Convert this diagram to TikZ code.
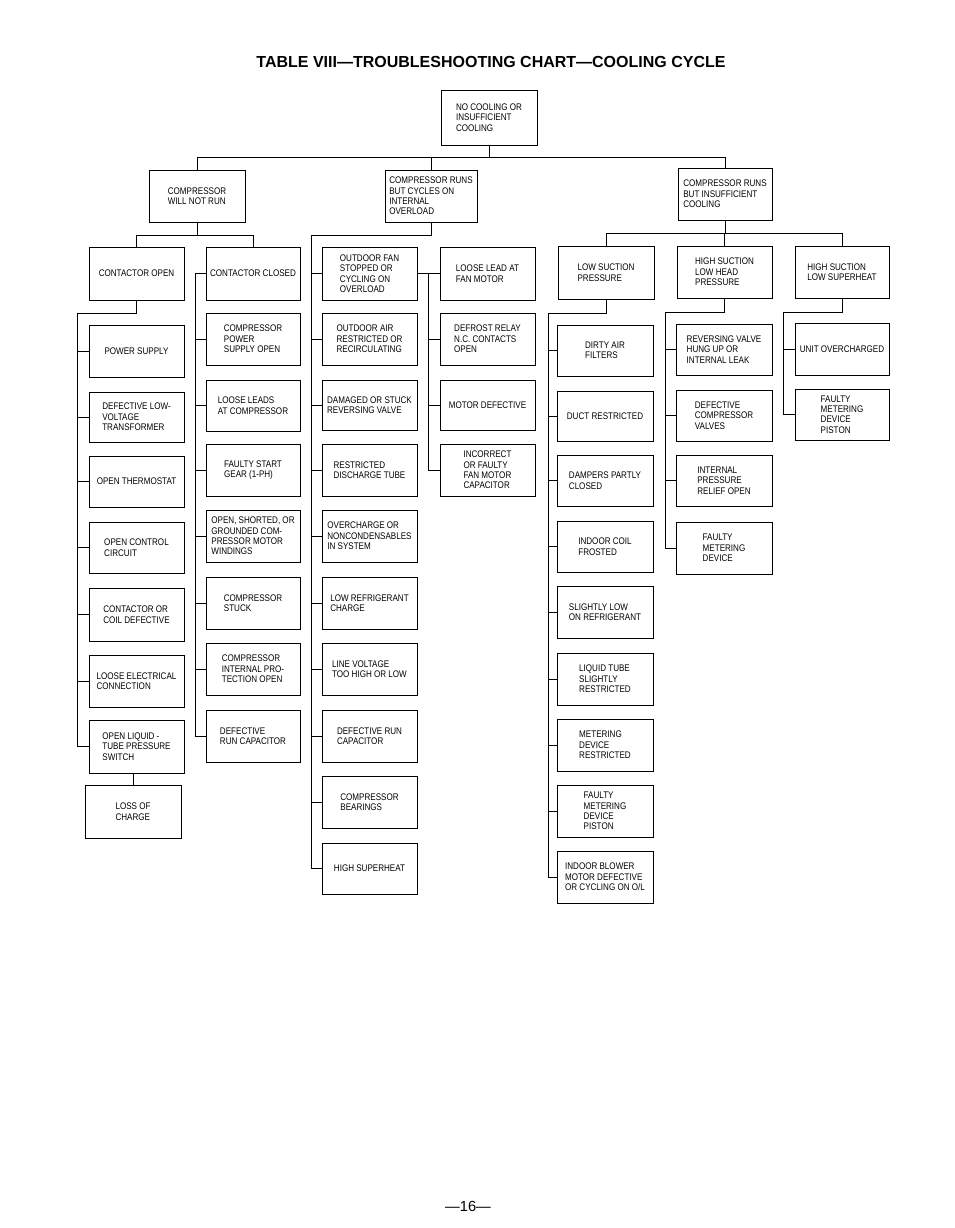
\documentclass[tikz,border=0pt]{standalone}
\usepackage{fontspec}
\setmainfont{Liberation Sans}
\newfontfamily\condfont[FakeStretch=0.84]{Liberation Sans}
\usetikzlibrary{positioning}
\tikzset{
  box/.style={draw,line width=0.65pt,inner sep=1.5pt,align=left,
    font=\condfont\fontsize{7.2}{7.8}\selectfont},
  link/.style={line width=0.65pt}
}
% box from its corners in page pixels
\newcommand{\bx}[6]{\node[box,minimum width={(#4-#2)*0.75pt},minimum height={(#5-#3)*0.75pt}] (#1) at ({(#2+#4)/2},{(#3+#5)/2}) {#6};}
\begin{document}
\begin{tikzpicture}[x=0.75pt,y=-0.75pt]
\useasboundingbox (0,0) rectangle (954,1228);
\node (title) at (491,62) {\bfseries\fontsize{12}{13}\selectfont TABLE VIII---TROUBLESHOOTING CHART---COOLING CYCLE};
\node (page) at (468,1206) {\fontsize{11}{12}\selectfont ---16---};
% top levels
\bx{nc}{441}{90}{537}{145}{NO COOLING OR\\INSUFFICIENT\\COOLING}
\bx{cwnr}{149}{170}{245}{222}{COMPRESSOR\\WILL NOT RUN}
\bx{crc}{385}{170}{477}{222}{COMPRESSOR RUNS\\BUT CYCLES ON\\INTERNAL\\OVERLOAD}
\bx{cri}{678}{168}{772}{220}{COMPRESSOR RUNS\\BUT INSUFFICIENT\\COOLING}
% compressor will not run
\bx{co}{89}{247}{184}{300}{CONTACTOR OPEN}
\bx{cc}{206}{247}{300}{300}{CONTACTOR CLOSED}
\bx{ps}{89}{325}{184}{377}{POWER SUPPLY}
\bx{dlv}{89}{392}{184}{442}{DEFECTIVE LOW-\\VOLTAGE\\TRANSFORMER}
\bx{ot}{89}{456}{184}{507}{OPEN THERMOSTAT}
\bx{occ}{89}{522}{184}{573}{OPEN CONTROL\\CIRCUIT}
\bx{ccd}{89}{588}{184}{641}{CONTACTOR OR\\COIL DEFECTIVE}
\bx{lec}{89}{655}{184}{707}{LOOSE ELECTRICAL\\CONNECTION}
\bx{olt}{89}{720}{184}{773}{OPEN LIQUID -\\TUBE PRESSURE\\SWITCH}
\bx{loc}{85}{785}{181}{838}{LOSS OF\\CHARGE}
\bx{cpso}{206}{313}{300}{365}{COMPRESSOR\\POWER\\SUPPLY OPEN}
\bx{lla}{206}{380}{300}{431}{LOOSE LEADS\\AT COMPRESSOR}
\bx{fsg}{206}{444}{300}{496}{FAULTY START\\GEAR (1-PH)}
\bx{osg}{206}{510}{300}{562}{OPEN, SHORTED, OR\\GROUNDED COM-\\PRESSOR MOTOR\\WINDINGS}
\bx{cs}{206}{577}{300}{629}{COMPRESSOR\\STUCK}
\bx{cip}{206}{643}{300}{695}{COMPRESSOR\\INTERNAL PRO-\\TECTION OPEN}
\bx{drc}{206}{710}{300}{762}{DEFECTIVE\\RUN CAPACITOR}
% compressor cycles on overload
\bx{ofs}{322}{247}{417}{300}{OUTDOOR FAN\\STOPPED OR\\CYCLING ON\\OVERLOAD}
\bx{oar}{322}{313}{417}{365}{OUTDOOR AIR\\RESTRICTED OR\\RECIRCULATING}
\bx{dsr}{322}{380}{417}{430}{DAMAGED OR STUCK\\REVERSING VALVE}
\bx{rdt}{322}{444}{417}{496}{RESTRICTED\\DISCHARGE TUBE}
\bx{ocn}{322}{510}{417}{562}{OVERCHARGE OR\\NONCONDENSABLES\\IN SYSTEM}
\bx{lrc}{322}{577}{417}{629}{LOW REFRIGERANT\\CHARGE}
\bx{lv}{322}{643}{417}{695}{LINE VOLTAGE\\TOO HIGH OR LOW}
\bx{drc2}{322}{710}{417}{762}{DEFECTIVE RUN\\CAPACITOR}
\bx{cb}{322}{776}{417}{828}{COMPRESSOR\\BEARINGS}
\bx{hs}{322}{843}{417}{894}{HIGH SUPERHEAT}
\bx{ll}{440}{247}{535}{300}{LOOSE LEAD AT\\FAN MOTOR}
\bx{drn}{440}{313}{535}{365}{DEFROST RELAY\\N.C. CONTACTS\\OPEN}
\bx{md}{440}{380}{535}{430}{MOTOR DEFECTIVE}
\bx{ifc}{440}{444}{535}{496}{INCORRECT\\OR FAULTY\\FAN MOTOR\\CAPACITOR}
% insufficient cooling
\bx{ls}{558}{246}{654}{299}{LOW SUCTION\\PRESSURE}
\bx{hslh}{677}{246}{772}{298}{HIGH SUCTION\\LOW HEAD\\PRESSURE}
\bx{hsls}{795}{246}{889}{298}{HIGH SUCTION\\LOW SUPERHEAT}
\bx{daf}{557}{325}{653}{376}{DIRTY AIR\\FILTERS}
\bx{dr}{557}{391}{653}{441}{DUCT RESTRICTED}
\bx{dpc}{557}{455}{653}{506}{DAMPERS PARTLY\\CLOSED}
\bx{icf}{557}{521}{653}{572}{INDOOR COIL\\FROSTED}
\bx{slr}{557}{586}{653}{638}{SLIGHTLY LOW\\ON REFRIGERANT}
\bx{lts}{557}{653}{653}{705}{LIQUID TUBE\\SLIGHTLY\\RESTRICTED}
\bx{mdr}{557}{719}{653}{771}{METERING\\DEVICE\\RESTRICTED}
\bx{fmp}{557}{785}{653}{837}{FAULTY\\METERING\\DEVICE\\PISTON}
\bx{ibm}{557}{851}{653}{903}{INDOOR BLOWER\\MOTOR DEFECTIVE\\OR CYCLING ON O/L}
\bx{rvh}{676}{324}{772}{375}{REVERSING VALVE\\HUNG UP OR\\INTERNAL LEAK}
\bx{dcv}{676}{390}{772}{441}{DEFECTIVE\\COMPRESSOR\\VALVES}
\bx{ipr}{676}{455}{772}{506}{INTERNAL\\PRESSURE\\RELIEF OPEN}
\bx{fmd}{676}{522}{772}{574}{FAULTY\\METERING\\DEVICE}
\bx{uo}{795}{323}{889}{375}{UNIT OVERCHARGED}
\bx{fmdp}{795}{389}{889}{440}{FAULTY\\METERING\\DEVICE\\PISTON}
% buses
\coordinate (b1) at (0,157);
\coordinate (b2) at (0,235);
\coordinate (b3) at (0,233);
\draw[link] (nc.south) -- (nc.south |- b1);
\draw[link] (cwnr.north) |- (cri.north |- b1) -- (cri.north);
\draw[link] (crc.north) -- (crc.north |- b1);
\draw[link] (cwnr.south) -- (cwnr.south |- b2);
\draw[link] (co.north) |- (cc.north |- b2) -- (cc.north);
\draw[link] (cri.south) -- (cri.south |- b3);
\draw[link] (ls.north) |- (hsls.north |- b3) -- (hsls.north);
\draw[link] (hslh.north) -- (hslh.north |- b3);
% spines
\draw[link] (co.south) |- (77,313) |- (olt.west);
\foreach \n in {ps,dlv,ot,occ,ccd,lec} \draw[link] (\n.west) -- ++(-12,0);
\draw[link] (loc.north) -- (loc.north |- olt.south);
\draw[link] (cc.west) -- ++(-10,0) |- (drc.west);
\foreach \n in {cpso,lla,fsg,osg,cs,cip} \draw[link] (\n.west) -- ++(-10,0);
\draw[link] (crc.south) |- (311,235) |- (hs.west);
\foreach \n in {ofs,oar,dsr,rdt,ocn,lrc,lv,drc2,cb} \draw[link] (\n.west) -- ++(-11,0);
\draw[link] (ofs.east) -- (ll.west);
\draw[link] (428,273) |- (ifc.west);
\foreach \n in {drn,md} \draw[link] (\n.west) -- ++(-12,0);
\draw[link] (ls.south) |- (548,313) |- (ibm.west);
\foreach \n in {daf,dr,dpc,icf,slr,lts,mdr,fmp} \draw[link] (\n.west) -- ++(-9,0);
\draw[link] (hslh.south) |- (665,312) |- (fmd.west);
\foreach \n in {rvh,dcv,ipr} \draw[link] (\n.west) -- ++(-11,0);
\draw[link] (hsls.south) |- (783,312) |- (fmdp.west);
\draw[link] (uo.west) -- ++(-12,0);
\end{tikzpicture}
\end{document}
